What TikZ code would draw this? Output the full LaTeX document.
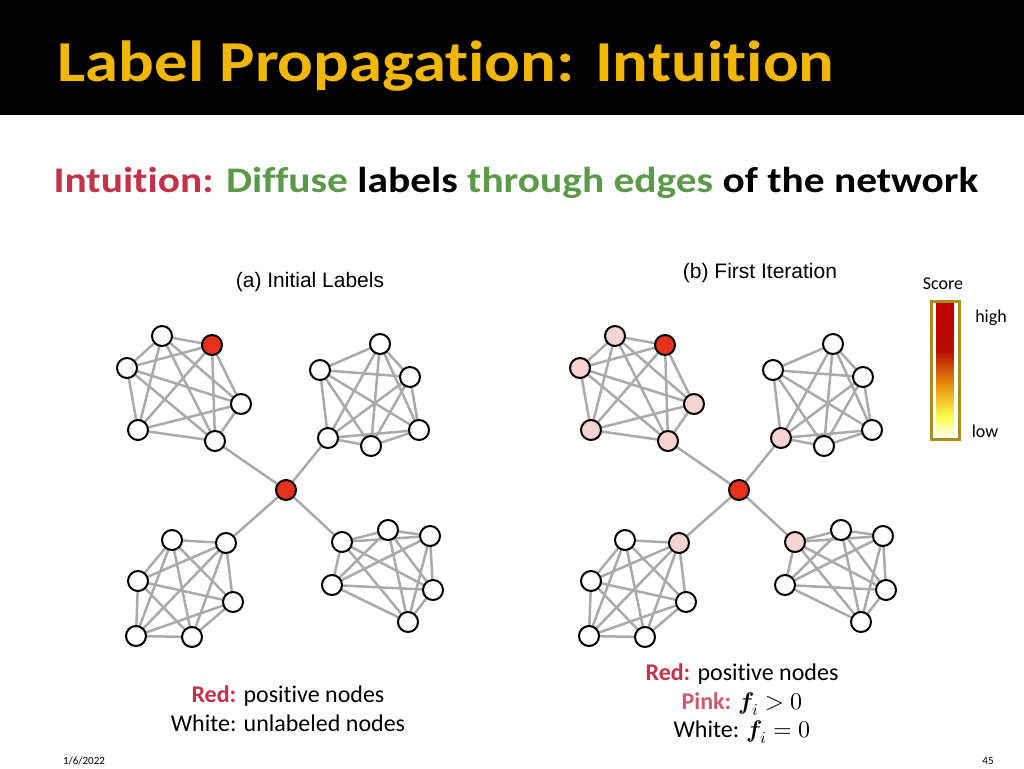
\documentclass[tikz,border=0pt]{standalone}
\usepackage{fontspec}
\setmainfont{Carlito}[Ligatures=NoCommon]
\newfontfamily\wide{Carlito}[FakeStretch=1.15,Ligatures=NoCommon]
\newfontfamily\arial{Liberation Sans}
\usepackage{unicode-math}
\setmathfont{Latin Modern Math}
\definecolor{gold}{HTML}{F2B705}
\definecolor{tred}{HTML}{C3324A}
\definecolor{tgreen}{HTML}{5A9A48}
\definecolor{nred}{HTML}{E8311A}
\definecolor{npink}{HTML}{F7D3D3}
\definecolor{edge}{HTML}{AAAAAA}
\pgfdeclareverticalshading{scorebar}{30bp}{rgb(0bp)=(1,1,1); rgb(8bp)=(1,1,0.3); rgb(20bp)=(0.9,0.55,0.05); rgb(32bp)=(0.72,0.05,0); rgb(50bp)=(0.75,0,0)}
\begin{document}
\begin{tikzpicture}[x=1pt,y=-1pt,
  nd/.style={circle,draw=black,line width=2pt,fill=white,minimum size=20pt,inner sep=0pt},
  rn/.style={nd,fill=nred},
  pn/.style={nd,fill=npink},
  ed/.style={draw=edge,line width=2.5pt}]
\useasboundingbox (0,0) rectangle (1024,768);
\fill[white] (0,0) rectangle (1024,768);
\fill[black] (0,0) rectangle (1024,115);
\node[anchor=west,text=gold,font=\wide\fontsize{58}{64}\selectfont\bfseries] (title) at (54,66) {Label Propagation: Intuition};
\node[anchor=west,font=\wide\fontsize{36}{42}\selectfont\bfseries] (sub) at (50,183) {\textcolor{tred}{Intuition:} \textcolor{tgreen}{Diffuse} labels \textcolor{tgreen}{through edges} of the network};
\node[font=\arial\fontsize{21}{24}\selectfont] (ta) at (310,282) {(a) Initial Labels};
\node[font=\arial\fontsize{21}{24}\selectfont] (tb) at (760,273) {(b) First Iteration};
\foreach \dx/\p/\tag in {0/0/a,453/1/b}{
 \begin{scope}[xshift=\dx]
  \coordinate (\tag A1) at (162,336); \coordinate (\tag A2) at (212,345); \coordinate (\tag A3) at (127,368);
  \coordinate (\tag A4) at (241,404); \coordinate (\tag A5) at (138,430); \coordinate (\tag A6) at (215,441);
  \coordinate (\tag B1) at (380,344); \coordinate (\tag B2) at (320,370); \coordinate (\tag B3) at (410,377);
  \coordinate (\tag B4) at (328,438); \coordinate (\tag B5) at (371,446); \coordinate (\tag B6) at (419,430);
  \coordinate (\tag C1) at (172,540); \coordinate (\tag C2) at (226,543); \coordinate (\tag C3) at (138,581);
  \coordinate (\tag C4) at (233,602); \coordinate (\tag C5) at (136,636); \coordinate (\tag C6) at (192,637);
  \coordinate (\tag D1) at (342,542); \coordinate (\tag D2) at (388,530); \coordinate (\tag D3) at (430,536);
  \coordinate (\tag D4) at (332,585); \coordinate (\tag D5) at (433,590); \coordinate (\tag D6) at (408,622);
  \coordinate (\tag X) at (286,490);
 \end{scope}
 \foreach \c in {A,B,C,D}{
  \foreach \i in {1,...,5}{
   \pgfmathtruncatemacro{\s}{\i+1}
   \foreach \j in {\s,...,6}{ \draw[ed] (\tag\c\i) -- (\tag\c\j); }}}
 \draw[ed] (\tag X) -- (\tag A6); \draw[ed] (\tag X) -- (\tag B4);
 \draw[ed] (\tag X) -- (\tag C2); \draw[ed] (\tag X) -- (\tag D1);
 \foreach \n in {A1,A3,A4,A5,A6}{ \ifnum\p=1 \node[pn] at (\tag\n) {}; \else \node[nd] at (\tag\n) {}; \fi }
 \foreach \n in {B4,C2,D1}{ \ifnum\p=1 \node[pn] at (\tag\n) {}; \else \node[nd] at (\tag\n) {}; \fi }
 \foreach \n in {B1,B2,B3,B5,B6,C1,C3,C4,C5,C6,D2,D3,D4,D5,D6}{ \node[nd] at (\tag\n) {}; }
 \node[rn] at (\tag A2) {}; \node[rn] at (\tag X) {};
}
\shade[shading=scorebar] (931,301) rectangle (959,439);
\draw[draw={rgb,255:red,170;green,140;blue,30},line width=3pt] (931,301) rectangle (959,439);
\node[font=\fontsize{18}{20}\selectfont] (score) at (943,284) {Score};
\node[font=\fontsize{18}{20}\selectfont] (high) at (991,318) {high};
\node[font=\fontsize{18}{20}\selectfont] (low) at (985,431) {low};
\node[align=center,font=\fontsize{24}{29}\selectfont] (la) at (288,709) {\textcolor{tred}{\textbf{Red:}} positive nodes\\White: unlabeled nodes};
\node[align=center,font=\fontsize{24}{28.5}\selectfont] (lb) at (742,704) {\textcolor{tred}{\textbf{Red:}} positive nodes\\\textcolor{tred!80}{\textbf{Pink:}} $\symbfit{f}_i>0$\\White: $\symbfit{f}_i=0$};
\node[font=\fontsize{11}{13}\selectfont] (date) at (84,761) {1/6/2022};
\node[font=\fontsize{11}{13}\selectfont] (pg) at (988,761) {45};
\end{tikzpicture}
\end{document}
